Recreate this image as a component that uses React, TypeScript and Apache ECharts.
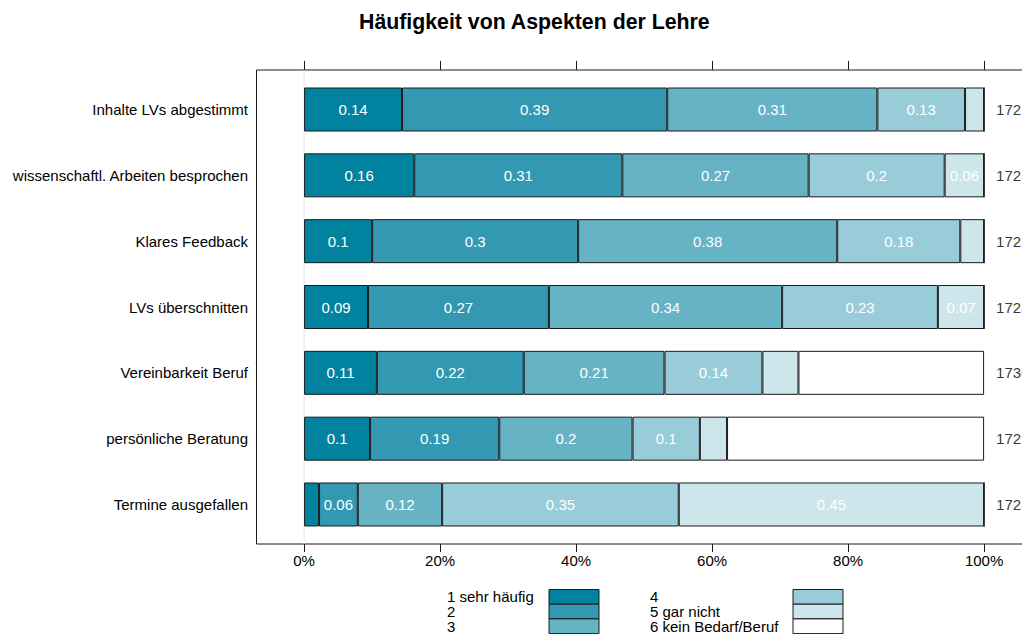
import React, { useEffect, useRef } from "react";
import * as echarts from "echarts";

const categories = [
  "Inhalte LVs abgestimmt",
  "wissenschaftl. Arbeiten besprochen",
  "Klares Feedback",
  "LVs überschnitten",
  "Vereinbarkeit Beruf",
  "persönliche Beratung",
  "Termine ausgefallen",
];
const levelNames = ["1 sehr häufig", "2", "3", "4", "5 gar nicht", "6 kein Bedarf/Beruf"];
const levelColors = ["#01829E", "#3399B3", "#66B3C6", "#99CCD9", "#CCE6EC", "#FFFFFF"];

const level1 = [0.144, 0.162, 0.1, 0.094, 0.107, 0.097, 0.022];
const level2 = [0.39, 0.306, 0.303, 0.266, 0.216, 0.19, 0.057];
const level3 = [0.309, 0.274, 0.381, 0.343, 0.207, 0.196, 0.124];
const level4 = [0.129, 0.2, 0.181, 0.229, 0.144, 0.099, 0.348];
const level5 = [0.028, 0.058, 0.035, 0.068, 0.053, 0.04, 0.449];
const level6 = [0, 0, 0, 0, 0.273, 0.378, 0];
const levels = [level1, level2, level3, level4, level5, level6];

const counts = [1725, 1723, 1728, 1728, 1730, 1729, 1728];
const tickValues = [0, 0.2, 0.4, 0.6, 0.8, 1.0];

const FONT = "'Liberation Sans', Arial, Helvetica, sans-serif";

export default function App() {
  const ref = useRef<HTMLDivElement>(null);
  useEffect(() => {
    if (!ref.current) return;
    const chart = echarts.init(ref.current, null, { renderer: "svg" });
    const gridLeft = 256.5;
    const gridWidth = 775.2;
    const xMin = -0.07;
    const xMax = 1.07;

    const barSeries = levels.map((vals, i) => ({
      type: "bar",
      name: levelNames[i],
      xAxisIndex: 2,
      yAxisIndex: 1,
      stack: "total",
      barWidth: 44,
      data: vals,
      itemStyle: { color: levelColors[i], borderColor: "#1a1a1a", borderWidth: 1 },
      label: {
        show: i < 5,
        position: "inside",
        color: "#ffffff",
        fontSize: 15,
        fontFamily: FONT,
        formatter: (p: any) => (p.value >= 0.055 ? String(Math.round(p.value * 100) / 100) : ""),
      },
      emphasis: { disabled: true },
      z: 3,
    }));

    const legendGraphics: any[] = [];
    levelNames.forEach((name, i) => {
      const col = Math.floor(i / 3);
      const row = i % 3;
      const textX = col === 0 ? 447 : 650;
      const rectX = col === 0 ? 549 : 793;
      const y0 = 589.5 + row * 14.7;
      legendGraphics.push({
        type: "rect",
        shape: { x: rectX, y: y0, width: 50, height: 14.7 },
        style: { fill: levelColors[i], stroke: "#1a1a1a", lineWidth: 1 },
      });
      legendGraphics.push({
        type: "text",
        x: textX,
        y: y0 + 7.35,
        style: {
          text: name,
          fill: "#000",
          font: `15px ${FONT}`,
          lineHeight: 13,
          textAlign: "left",
          textVerticalAlign: "middle",
        },
      });
    });

    chart.setOption({
      animation: false,
      title: {
        text: "Häufigkeit von Aspekten der Lehre",
        left: 354,
        top: 6,
        textStyle: { fontSize: 21.3, fontWeight: "bold", color: "#000", fontFamily: FONT },
      },
      grid: [
        { left: gridLeft, top: 70, width: gridWidth, height: 474, show: true, borderColor: "#1a1a1a", borderWidth: 1, backgroundColor: "transparent" },
        { left: gridLeft, top: 76.6, width: gridWidth, height: 460.8, show: false },
      ],
      xAxis: [
        {
          gridIndex: 0,
          type: "value",
          min: xMin,
          max: xMax,
          position: "bottom",
          axisLine: { show: false, onZero: false },
          splitLine: { show: false },
          axisTick: { show: true, inside: false, length: 8, lineStyle: { color: "#1a1a1a" }, customValues: tickValues },
          axisLabel: {
            customValues: tickValues,
            formatter: (v: number) => Math.round(v * 100) + "%",
            fontSize: 15,
            color: "#000",
            fontFamily: FONT,
            margin: 9,
          },
        },
        {
          gridIndex: 0,
          type: "value",
          min: xMin,
          max: xMax,
          position: "top",
          axisLine: { show: false, onZero: false },
          splitLine: { show: false },
          axisTick: { show: true, inside: false, length: 9, lineStyle: { color: "#1a1a1a" }, customValues: tickValues },
          axisLabel: { show: false },
        },
        { gridIndex: 1, type: "value", min: xMin, max: xMax, show: false },
      ],
      yAxis: [
        { gridIndex: 0, type: "value", min: 0.4, max: 7.6, show: false },
        {
          gridIndex: 1,
          type: "category",
          data: categories,
          inverse: true,
          axisLine: { show: false },
          axisTick: { show: false },
          splitLine: { show: false },
          axisLabel: { fontSize: 15, color: "#000", fontFamily: FONT, margin: 8.5 },
        },
      ],
      series: [
        {
          type: "line",
          xAxisIndex: 0,
          yAxisIndex: 0,
          data: [
            [0, 0.4],
            [0, 7.6],
          ],
          symbol: "none",
          lineStyle: { color: "#e6e6e6", width: 1 },
          silent: true,
          z: 1,
        },
        ...barSeries,
        {
          type: "scatter",
          xAxisIndex: 2,
          yAxisIndex: 1,
          symbolSize: 0,
          data: counts.map((c, i) => [1.0, i]),
          label: {
            show: true,
            position: "right",
            distance: 12,
            color: "#000",
            fontSize: 15,
            fontFamily: FONT,
            formatter: (p: any) => String(counts[p.dataIndex]),
          },
          silent: true,
          z: 4,
        },
      ],
      graphic: legendGraphics,
    });
    return () => chart.dispose();
  }, []);
  return (
    <div style={{ position: "absolute", left: 0, top: 0, width: 1022, height: 634, overflow: "hidden" }}>
      <div ref={ref} style={{ width: 1040, height: 634 }} />
    </div>
  );
}
